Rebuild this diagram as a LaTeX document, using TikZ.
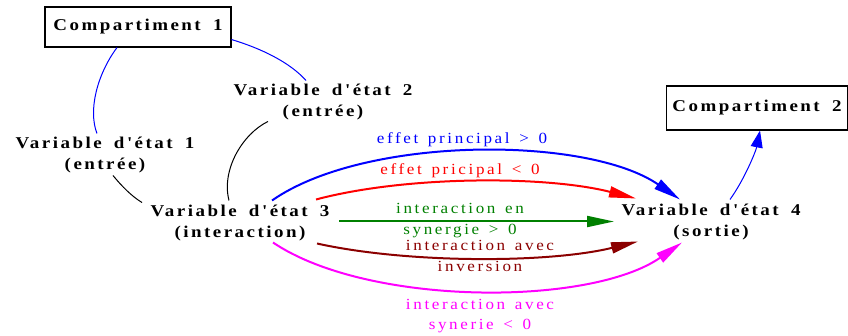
\documentclass[tikz,border=0pt]{standalone}
\usepackage{fontspec}
\setmainfont{Liberation Serif}
\newfontfamily\statefont[LetterSpace=15,FakeStretch=1.15,WordSpace=1.7]{Liberation Serif}
\newfontfamily\labelfont[LetterSpace=17,FakeStretch=1.1,WordSpace=1.4]{Liberation Serif}
\usetikzlibrary{arrows.meta}
\definecolor{effblue}{HTML}{0000FF}
\definecolor{effred}{HTML}{FF0000}
\definecolor{effgreen}{HTML}{008000}
\definecolor{effdarkred}{HTML}{8B0000}
\definecolor{effmagenta}{HTML}{FF00FF}
\tikzset{
  statenode/.style={inner sep=0pt, align=center,
    font=\statefont\bfseries\fontsize{16.5}{21}\selectfont},
  compnode/.style={statenode, draw, line width=1.1pt},
  edgelabel/.style={inner sep=0pt, align=center,
    font=\labelfont\fontsize{15.5}{20.5}\selectfont},
  link/.style={line width=1pt},
  effect/.style={line width=2pt, -{Triangle[length=27pt,width=11pt]}},
}
\begin{document}
\begin{tikzpicture}[x=1pt,y=-1pt]
\useasboundingbox (0,0) rectangle (848,336);

% compartments
\node[compnode, minimum width=186pt, minimum height=40pt] (c1) at (138,27) {Compartiment 1};
\node[compnode, minimum width=181pt, minimum height=44pt] (c2) at (757,108) {Compartiment 2};

% state variables
\node[statenode] (v1) at (105,155.5) {Variable d'état 1\\(entrée)};
\node[statenode] (v2) at (323,102.5) {Variable d'état 2\\(entrée)};
\node[statenode] (v3) at (240,223.5) {Variable d'état 3\\(interaction)};
\node[statenode] (v4) at (711,222.5) {Variable d'état 4\\(sortie)};

% compartment 1 groups the two inputs
\draw[link, effblue] ([xshift=-21pt]c1.south) .. controls +(-20,27) and +(-9,-23) .. ([shift={(-8,-22)}]v1.center);
\draw[link, effblue] ([shift={(0,-8)}]c1.south east) .. controls +(30,9) and +(-16,-18) .. ([shift={(-17,-22)}]v2.center);

% inputs combine into the interaction
\draw[link] ([shift={(8,20)}]v1.center) .. controls +(9,11) and +(-10,-6) .. ([shift={(-98,-21)}]v3.center);
\draw[link] ([shift={(-55,19)}]v2.center) .. controls +(-25,12) and +(-8,-31) .. ([shift={(-11,-23)}]v3.center);

% effects of the interaction on the output
\draw[effect, effblue] ([shift={(32,-23)}]v3.center) .. controls +(93,-65) and +(-93,-64) .. ([shift={(-31,-23)}]v4.center);
\draw[effect, effred] ([shift={(76,-24)}]v3.center) .. controls +(90,-24) and +(-90,-23) .. ([shift={(-75,-24)}]v4.center);
\draw[effect, effgreen] ([shift={(99,-2)}]v3.center) -- ([shift={(-97,-1)}]v4.center);
\draw[effect, effdarkred] ([shift={(77,20)}]v3.center) .. controls +(90,20) and +(-90,22) .. ([shift={(-73,19)}]v4.center);
\draw[effect, effmagenta] ([shift={(33,19)}]v3.center) .. controls +(95,64) and +(-92,64) .. ([shift={(-29,20)}]v4.center);

% output feeds compartment 2
\draw[effblue, line width=1pt, -{Triangle[length=17pt,width=12pt]}] ([shift={(19,-23)}]v4.center) .. controls +(15,-21) and +(-4,20) .. ([xshift=3pt]c2.south);

% edge labels
\node[edgelabel, text=effblue, anchor=base] (l1) at (462,144) {effet principal > 0};
\node[edgelabel, text=effred, anchor=base] (l2) at (460,175) {effet pricipal < 0};
\node[edgelabel, text=effgreen] (l3) at (460,220.5) {interaction en\\synergie > 0};
\node[edgelabel, text=effdarkred] (l4) at (480,256) {interaction avec\\inversion};
\node[edgelabel, text=effmagenta] (l5) at (480,316) {interaction avec\\synerie < 0};
\end{tikzpicture}
\end{document}
